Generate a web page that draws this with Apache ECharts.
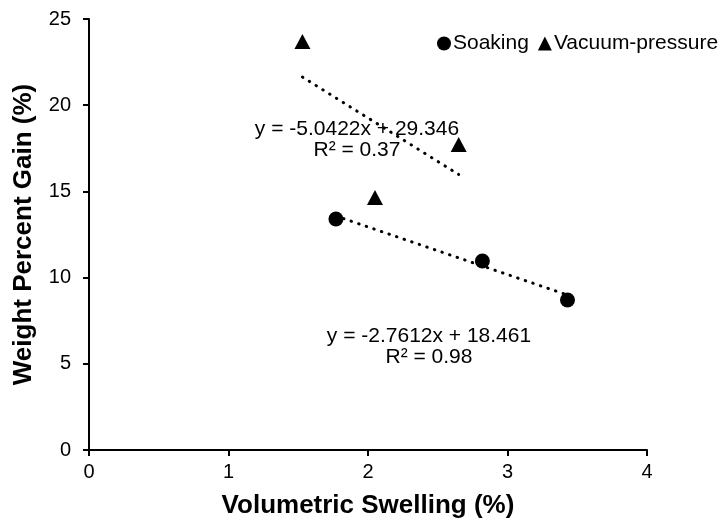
<!DOCTYPE html>
<html>
<head>
<meta charset="utf-8">
<script src="https://cdn.jsdelivr.net/npm/echarts@6/dist/echarts.min.js"></script>
<style>
  html, body { margin: 0; padding: 0; background: #fff; }
  #chart { width: 724px; height: 523px; }
</style>
</head>
<body>
<div id="chart"></div>
<script>
// Measured points: volumetric swelling (%) vs weight percent gain (%)
const soakingX = [1.77, 2.82, 3.43];
const soakingY = [13.4, 10.96, 8.7];
const vacuumX = [1.53, 2.05, 2.65];
const vacuumY = [23.7, 14.65, 17.72];

// Linear trendline coefficients (y = slope * x + intercept)
const soakingFit = { slope: -2.7612, intercept: 18.461, r2: '0.98' };
const vacuumFit = { slope: -5.0422, intercept: 29.346, r2: '0.37' };

const xTicks = [0, 1, 2, 3, 4];
const yTicks = [0, 5, 10, 15, 20, 25];

const FONT = '"Liberation Sans", Arial, sans-serif';

function pairs(xs, ys) {
  return xs.map((x, i) => [x, ys[i]]);
}
function fitLine(xs, fit) {
  const lo = Math.min(...xs), hi = Math.max(...xs);
  return [[lo, fit.slope * lo + fit.intercept], [hi, fit.slope * hi + fit.intercept]];
}
function eqText(fit) {
  const sign = fit.intercept >= 0 ? '+' : '-';
  return 'y = ' + fit.slope + 'x ' + sign + ' ' + Math.abs(fit.intercept) + '\nR² = ' + fit.r2;
}

const chart = echarts.init(document.getElementById('chart'), null, { renderer: 'canvas' });

const trendStyle = { color: '#000', width: 3, type: [0.5, 7.5], cap: 'round', opacity: 1 };

chart.setOption({
  animation: false,
  backgroundColor: '#fff',
  textStyle: { fontFamily: FONT },
  grid: { left: 89, right: 77, top: 19, bottom: 73, containLabel: false, outerBoundsMode: 'none' },
  legend: {
    data: [
      { name: 'Soaking', icon: 'circle' },
      { name: 'Vacuum-pressure', icon: 'triangle' }
    ],
    left: 432,
    top: 28,
    itemWidth: 14,
    itemHeight: 14,
    itemGap: 9,
    textStyle: { fontFamily: FONT, fontSize: 21, color: '#000', padding: [0, 0, 0, -3] }
  },
  xAxis: {
    type: 'value',
    min: xTicks[0],
    max: xTicks[xTicks.length - 1],
    interval: 1,
    name: 'Volumetric Swelling (%)',
    nameLocation: 'middle',
    nameGap: 43,
    nameTextStyle: { fontFamily: FONT, fontSize: 26, fontWeight: 'bold', color: '#000' },
    axisLine: { onZero: false, lineStyle: { color: '#000', width: 2 } },
    axisTick: { show: true, inside: false, length: 6, lineStyle: { color: '#000', width: 2 } },
    axisLabel: { fontFamily: FONT, fontSize: 20, color: '#000', margin: 12 },
    splitLine: { show: false }
  },
  yAxis: {
    type: 'value',
    min: yTicks[0],
    max: yTicks[yTicks.length - 1],
    interval: 5,
    name: 'Weight Percent Gain (%)',
    nameLocation: 'middle',
    nameGap: 52,
    nameTextStyle: { fontFamily: FONT, fontSize: 26, fontWeight: 'bold', color: '#000' },
    axisLine: { show: true, onZero: false, lineStyle: { color: '#000', width: 2 } },
    axisTick: { show: true, inside: false, length: 6, lineStyle: { color: '#000', width: 2 } },
    axisLabel: { fontFamily: FONT, fontSize: 20, color: '#000', margin: 18 },
    splitLine: { show: false }
  },
  series: [
    {
      name: 'Soaking trend',
      type: 'line',
      data: fitLine(soakingX, soakingFit),
      symbol: 'none',
      lineStyle: trendStyle,
      z: 1
    },
    {
      name: 'Vacuum-pressure trend',
      type: 'line',
      data: fitLine(vacuumX, vacuumFit),
      symbol: 'none',
      lineStyle: trendStyle,
      z: 1
    },
    {
      name: 'Soaking',
      type: 'scatter',
      data: pairs(soakingX, soakingY),
      symbol: 'circle',
      symbolSize: 15,
      itemStyle: { color: '#000', opacity: 1 },
      z: 3
    },
    {
      name: 'Vacuum-pressure',
      type: 'scatter',
      data: pairs(vacuumX, vacuumY),
      symbol: 'triangle',
      symbolSize: [16, 15],
      itemStyle: { color: '#000', opacity: 1 },
      z: 3
    }
  ],
  graphic: [
    {
      type: 'text',
      x: 357,
      y: 140,
      z: 2,
      style: {
        text: eqText(vacuumFit),
        fill: '#000',
        font: '21px ' + FONT,
        align: 'center',
        verticalAlign: 'middle',
        lineHeight: 21
      }
    },
    {
      type: 'text',
      x: 429,
      y: 347,
      z: 2,
      style: {
        text: eqText(soakingFit),
        fill: '#000',
        font: '21px ' + FONT,
        align: 'center',
        verticalAlign: 'middle',
        lineHeight: 21
      }
    }
  ]
});
</script>
</body>
</html>
